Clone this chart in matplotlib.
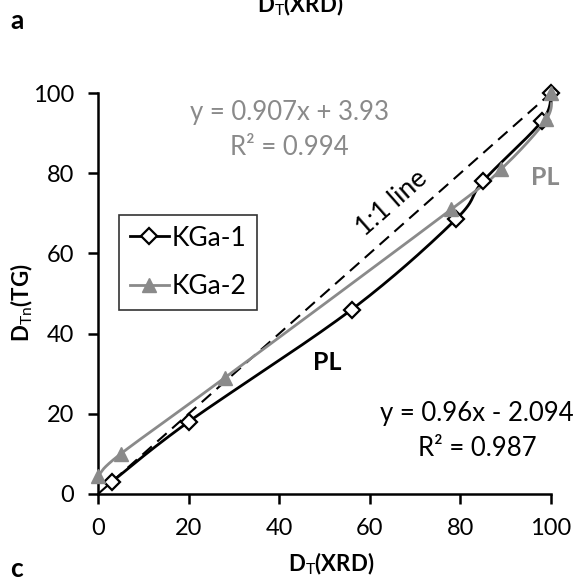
import numpy as np
import matplotlib
matplotlib.use("Agg")
import matplotlib.pyplot as plt
from matplotlib.lines import Line2D

# ---- data ----
kga1_x = [3, 20, 56, 79, 85, 98, 100]
kga1_y = [3, 18, 46, 68.5, 78, 93, 100]
kga2_x = [0, 5, 28, 78, 89, 99, 100]
kga2_y = [4.5, 10, 29, 71, 81, 93.5, 100]
ticks = [0, 20, 40, 60, 80, 100]

plt.rcParams['font.family'] = ['Lato', 'DejaVu Sans']
plt.rcParams['mathtext.fontset'] = 'custom'
plt.rcParams['mathtext.rm'] = 'Lato'
plt.rcParams['mathtext.bf'] = 'Lato:bold'
plt.rcParams['mathtext.it'] = 'Lato:italic'

GRAY = '#8a8a8a'


def smooth(xs, ys, n=30, t=0.5):
    """Catmull-Rom style smooth path through the given points (rendering only)."""
    P = np.column_stack([xs, ys]).astype(float)
    ext = np.vstack([P[0], P, P[-1]])
    out = []
    for i in range(1, len(ext) - 2):
        p0, p1, p2, p3 = ext[i - 1], ext[i], ext[i + 1], ext[i + 2]
        c1 = p1 + (p2 - p0) * t / 3
        c2 = p2 - (p3 - p1) * t / 3
        s = np.linspace(0, 1, n)[:, None]
        seg = (1 - s) ** 3 * p1 + 3 * (1 - s) ** 2 * s * c1 + 3 * (1 - s) * s ** 2 * c2 + s ** 3 * p2
        out.append(seg)
    out = np.vstack(out)
    return out[:, 0], out[:, 1]


fig = plt.figure(figsize=(5.76, 5.86), dpi=100)
ax = fig.add_axes([98 / 576, 1 - 494 / 586, (551 - 98) / 576, (494 - 93) / 586])

ax.plot([0, 100], [0, 100], color='black', lw=1.5, dashes=(6, 3.5), zorder=1)

sx, sy = smooth(kga1_x, kga1_y)
ax.plot(sx, sy, color='black', lw=2.0, zorder=2, clip_on=False)
ax.plot(kga1_x, kga1_y, ls='none', marker='D', ms=8, mfc='white', mec='black', mew=1.6,
        zorder=4, clip_on=False)

sx2, sy2 = smooth(kga2_x, kga2_y)
ax.plot(sx2, sy2, color=GRAY, lw=2.0, zorder=3, clip_on=False)
ax.plot(kga2_x, kga2_y, ls='none', marker='^', ms=10, mfc=GRAY, mec=GRAY,
        zorder=5, clip_on=False)

ax.set_xlim(0, 100)
ax.set_ylim(0, 100)
ax.set_xticks(ticks)
ax.set_yticks(ticks)
ax.set_xticklabels([str(t) for t in ticks])
ax.set_yticklabels([str(t) for t in ticks])
for s in ['top', 'right']:
    ax.spines[s].set_visible(False)
for s in ['left', 'bottom']:
    ax.spines[s].set_linewidth(1.8)
ax.tick_params(axis='both', direction='out', length=7, width=1.8, labelsize=17, pad=10)

ax.text(42.2, 90.7, 'y = 0.907x + 3.93\nR² = 0.994', color=GRAY, fontsize=18.5,
        ha='center', va='center', linespacing=1.5)
ax.text(83.7, 15.6, 'y = 0.96x - 2.094\nR² = 0.987', color='black', fontsize=18.5,
        ha='center', va='center', linespacing=1.5)
ax.text(50.6, 32.9, 'PL', fontsize=18, fontweight='bold', ha='center', va='center')
ax.text(98.7, 78.9, 'PL', fontsize=18, fontweight='bold', color=GRAY, ha='center', va='center')
ax.text(64.9, 72.6, '1:1 line', fontsize=19, rotation=41.5, ha='center', va='center',
        rotation_mode='anchor')

handles = [Line2D([], [], color='black', lw=2, marker='D', ms=8, mfc='white', mec='black', mew=1.6),
           Line2D([], [], color=GRAY, lw=2, marker='^', ms=10, mfc=GRAY, mec=GRAY)]
leg = ax.legend(handles, ['KGa-1', 'KGa-2'], loc='upper left',
                bbox_to_anchor=((119 - 98) / 453, (494 - 215) / 401),
                fontsize=19, frameon=True, fancybox=False, edgecolor='black',
                handlelength=1.5, handletextpad=0.1, borderpad=0.4, labelspacing=0.9,
                borderaxespad=0)
leg.get_frame().set_linewidth(1.2)

fig.text(331 / 576, 1 - 564 / 586, r'$\mathbf{D}_{\mathrm{T}}\mathbf{(XRD)}$', fontsize=16,
         ha='center', va='center')
fig.text(300 / 576, 1 - 12 / 586, r'$\mathbf{D}_{\mathrm{T}}\mathbf{(XRD)}$', fontsize=16,
         ha='center', va='baseline')
fig.text(22 / 576, 1 - 303 / 586, r'$\mathbf{D}_{\mathrm{Tn}}\mathbf{(TG)}$', fontsize=16,
         ha='center', va='center', rotation=90)
fig.text(10 / 576, 1 - 29 / 586, 'a', fontsize=19, fontweight='bold', ha='left', va='baseline')
fig.text(10 / 576, 1 - 577 / 586, 'c', fontsize=19, fontweight='bold', ha='left', va='baseline')

fig.savefig('out.png', dpi=100)
